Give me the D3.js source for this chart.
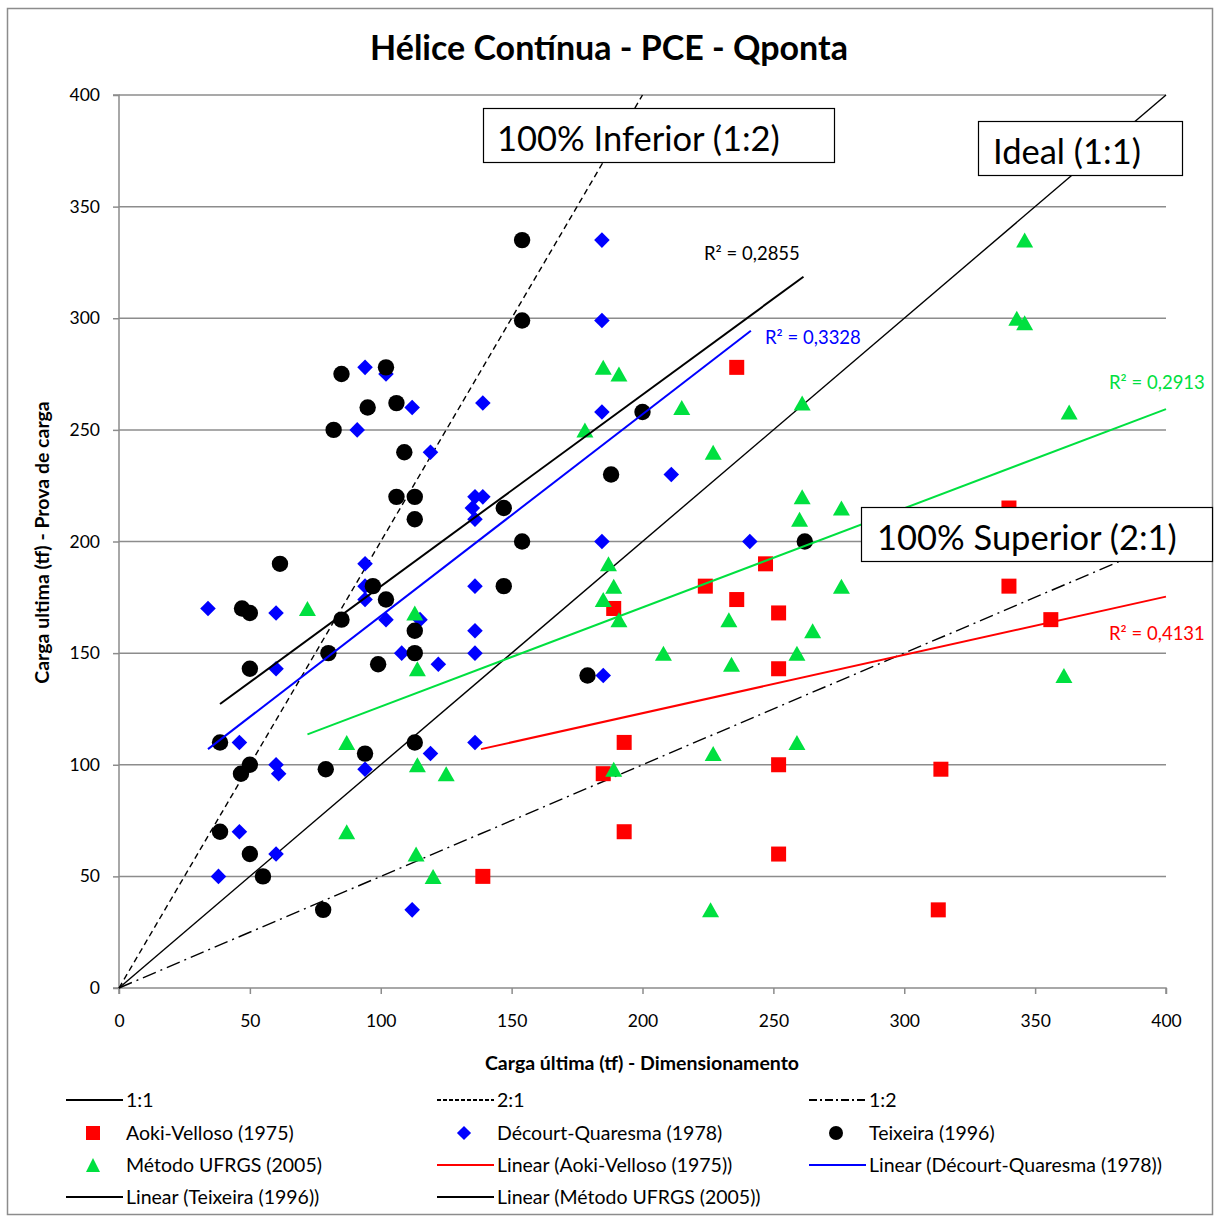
<!DOCTYPE html>
<html>
<head>
<meta charset="utf-8">
<script src="https://cdn.jsdelivr.net/npm/d3@7"></script>
<style>
  body { margin: 0; background: #fff; }
  text { font-family: Lato, "Open Sans", sans-serif; }
</style>
</head>
<body>
<svg id="chart" width="1216" height="1221"></svg>
<script>
// Carga última (tf): dimensionamento (x) vs. prova de carga (y)
const aokiX = [236, 340, 247, 224, 236, 189, 252, 340, 356, 252, 193, 185, 252, 314, 193, 252, 139, 313];
const aokiY = [278, 215, 190, 180, 174, 170, 168, 180, 165, 143, 110, 96, 100, 98, 70, 60, 50, 35];

const decourtX = [184.5, 184.5, 94, 102, 112, 139, 91, 119, 184.5, 211, 136, 139, 135, 136, 94, 94, 94, 34, 60, 102, 115, 136, 136, 108, 136, 122, 60, 185, 184.5, 241, 46, 136, 119, 60, 61, 94, 46, 60, 38, 112];
const decourtY = [335, 299, 278, 275, 260, 262, 250, 240, 258, 230, 220, 220, 215, 210, 190, 180, 174, 170, 168, 165, 165, 180, 160, 150, 150, 145, 143, 140, 200, 200, 110, 110, 105, 100, 96, 98, 70, 60, 50, 35];

const teixeiraX = [154, 154, 85, 102, 95, 106, 82, 109, 106, 113, 113, 200, 188, 147, 154, 147, 61.5, 47, 50, 97, 102, 85, 113, 113, 80, 99, 50, 179, 262, 38.6, 113, 94, 50, 46.6, 79, 38.6, 50, 55, 78];
const teixeiraY = [335, 299, 275, 278, 260, 262, 250, 240, 220, 220, 210, 258, 230, 215, 200, 180, 190, 170, 168, 180, 174, 165, 160, 150, 150, 145, 143, 140, 200, 110, 110, 105, 100, 96, 98, 70, 60, 50, 35];

const ufrgsX = [346, 343, 346, 363, 185, 191, 178, 215, 261, 227, 261, 260, 276, 187, 189, 185, 191, 233, 265, 276, 208, 259, 234, 361, 72, 113, 114, 87, 259, 227, 114, 125, 189, 87, 113.5, 120, 226];
const ufrgsY = [335, 300, 298, 258, 278, 275, 250, 260, 262, 240, 220, 210, 215, 190, 180, 174, 165, 165, 160, 180, 150, 150, 145, 140, 170, 168, 143, 110, 110, 105, 100, 96, 98, 70, 60, 50, 35];

// Linhas de tendência lineares: [x inicial, y inicial], [x final, y final]
const trendAoki = [[138.3, 107.0], [400, 175.3]];
const trendDecourt = [[34, 107.0], [241.4, 294.4]];
const trendTeixeira = [[38.6, 127.2], [261.5, 318.6]];
const trendUfrgs = [[72, 113.6], [400, 259.3]];

const r2Labels = ["R² = 0,2855", "R² = 0,3328", "R² = 0,2913", "R² = 0,4131"];

// Retas de referência: y = k·x
const refSlopes = [1, 2, 0.5];
const refNames = ["1:1", "2:1", "1:2"];

const xTicks = [0, 50, 100, 150, 200, 250, 300, 350, 400];
const yTicks = [0, 50, 100, 150, 200, 250, 300, 350, 400];

const boxLabels = ["100% Inferior (1:2)", "Ideal (1:1)", "100% Superior (2:1)"];

const legendNames = [
  "1:1", "2:1", "1:2",
  "Aoki-Velloso (1975)", "Décourt-Quaresma (1978)", "Teixeira (1996)",
  "Método UFRGS (2005)", "Linear (Aoki-Velloso (1975))", "Linear (Décourt-Quaresma (1978))",
  "Linear (Teixeira (1996))", "Linear (Método UFRGS (2005))"
];

const RED = "#ff0000", BLUE = "#0000ff", BLACK = "#000000", GREEN = "#00e040";
const GRID = "#8c8c8c";

const svg = d3.select("#chart");
const plot = { left: 119, right: 1166, top: 95, bottom: 988 };

const x = d3.scaleLinear().domain([0, 400]).range([plot.left, plot.right]);
const y = d3.scaleLinear().domain([0, 400]).range([plot.bottom, plot.top]);

// Moldura externa
svg.append("rect").attr("x", 7.5).attr("y", 8.5).attr("width", 1205).attr("height", 1206)
  .attr("fill", "#fff").attr("stroke", GRID).attr("stroke-width", 1.5);

// Título
svg.append("text").attr("x", 609).attr("y", 60).attr("text-anchor", "middle")
  .attr("font-size", 34).attr("font-weight", "bold").text("Hélice Contínua - PCE - Qponta");

// Linhas de grade horizontais
svg.append("g").selectAll("line").data(yTicks.filter(d => d > 0)).join("line")
  .attr("x1", plot.left).attr("x2", plot.right)
  .attr("y1", d => y(d)).attr("y2", d => y(d))
  .attr("stroke", GRID).attr("stroke-width", 1.5);

// Eixos
const yAxis = svg.append("g").attr("transform", `translate(${plot.left},0)`)
  .call(d3.axisLeft(y).tickValues(yTicks).tickSize(6).tickPadding(13).tickFormat(d3.format("d")));
const xAxis = svg.append("g").attr("transform", `translate(0,${plot.bottom})`)
  .call(d3.axisBottom(x).tickValues(xTicks).tickSize(6).tickPadding(21).tickFormat(d3.format("d")));
[xAxis, yAxis].forEach(a => {
  a.select(".domain").attr("stroke", GRID).attr("stroke-width", 1.5);
  a.selectAll(".tick line").attr("stroke", GRID).attr("stroke-width", 1.5);
  a.selectAll(".tick text").attr("font-size", 17.5).attr("fill", "#000")
    .attr("font-family", "Lato, 'Open Sans', sans-serif");
});
yAxis.select(".domain").attr("d", `M-6,${plot.top}H0V${plot.bottom}H-6`);
xAxis.select(".domain").attr("d", `M${plot.left},6V0H${plot.right}V6`);

// Títulos dos eixos
svg.append("text").attr("x", 642).attr("y", 1070).attr("text-anchor", "middle")
  .attr("font-size", 19.5).attr("font-weight", "bold").text("Carga última (tf) - Dimensionamento");
svg.append("text").attr("transform", `translate(49,${(plot.top + plot.bottom) / 2 + 1}) rotate(-90)`)
  .attr("text-anchor", "middle").attr("font-size", 19.5).attr("font-weight", "bold")
  .text("Carga ultima (tf) - Prova de carga");

// Retas de referência
const refDash = ["none", "6,4", "14,5,2,5"];
const line = d3.line().x(d => x(d[0])).y(d => y(d[1]));
refSlopes.forEach((k, i) => {
  const xEnd = Math.min(400, 400 / k);
  svg.append("path").attr("d", line([[0, 0], [xEnd, k * xEnd]]))
    .attr("fill", "none").attr("stroke", BLACK).attr("stroke-width", 1.4)
    .attr("stroke-dasharray", refDash[i]);
});

// Marcadores
const sq = 15, dia = 11, circR = 8.2, triW = 17, triH = 15;
const triPath = `M0,${-triH / 2}L${triW / 2},${triH / 2}L${-triW / 2},${triH / 2}Z`;

svg.append("g").selectAll("rect").data(d3.zip(aokiX, aokiY)).join("rect")
  .attr("x", d => x(d[0]) - sq / 2).attr("y", d => y(d[1]) - sq / 2)
  .attr("width", sq).attr("height", sq).attr("fill", RED);

svg.append("g").selectAll("rect").data(d3.zip(decourtX, decourtY)).join("rect")
  .attr("x", -dia / 2).attr("y", -dia / 2).attr("width", dia).attr("height", dia)
  .attr("transform", d => `translate(${x(d[0])},${y(d[1])}) rotate(45)`).attr("fill", BLUE);

svg.append("g").selectAll("circle").data(d3.zip(teixeiraX, teixeiraY)).join("circle")
  .attr("cx", d => x(d[0])).attr("cy", d => y(d[1])).attr("r", circR).attr("fill", BLACK);

svg.append("g").selectAll("path").data(d3.zip(ufrgsX, ufrgsY)).join("path")
  .attr("d", triPath).attr("transform", d => `translate(${x(d[0])},${y(d[1])})`).attr("fill", GREEN);

// Linhas de tendência
[[trendAoki, RED], [trendDecourt, BLUE], [trendTeixeira, BLACK], [trendUfrgs, GREEN]].forEach(([pts, c]) => {
  svg.append("path").attr("d", line(pts)).attr("fill", "none").attr("stroke", c).attr("stroke-width", 2);
});

// Coeficientes R²
const r2Pos = [[704, 260, BLACK], [765, 344, BLUE], [1109, 389, GREEN], [1109, 640, RED]];
r2Pos.forEach((p, i) => {
  svg.append("text").attr("x", p[0]).attr("y", p[1]).attr("font-size", 18.5).attr("fill", p[2]).text(r2Labels[i]);
});

// Caixas de anotação
const boxes = [
  { x: 483, y: 108, w: 351, h: 54, tx: 497 },
  { x: 978, y: 121, w: 204, h: 54, tx: 993 },
  { x: 861, y: 507, w: 351, h: 54, tx: 877 }
];
boxes.forEach((b, i) => {
  svg.append("rect").attr("x", b.x + 0.5).attr("y", b.y + 0.5).attr("width", b.w).attr("height", b.h)
    .attr("fill", "#fff").attr("stroke", BLACK).attr("stroke-width", 1.2);
  svg.append("text").attr("x", b.tx).attr("y", b.y + b.h / 2 + 16).attr("font-size", 34.5).text(boxLabels[i]);
});

// Legenda
const legCols = [66, 437, 809];
const legRows = [1100, 1133, 1165, 1197];
const legItems = [
  { kind: "line", color: BLACK, dash: "none" },
  { kind: "line", color: BLACK, dash: "4,2" },
  { kind: "line", color: BLACK, dash: "8,3,2,3" },
  { kind: "square", color: RED },
  { kind: "diamond", color: BLUE },
  { kind: "circle", color: BLACK },
  { kind: "triangle", color: GREEN },
  { kind: "line", color: RED, dash: "none" },
  { kind: "line", color: BLUE, dash: "none" },
  { kind: "line", color: BLACK, dash: "none" },
  { kind: "line", color: BLACK, dash: "none" }
];
const leg = svg.append("g");
legItems.forEach((it, i) => {
  const cx = legCols[i % 3], cy = legRows[Math.floor(i / 3)];
  const g = leg.append("g").attr("transform", `translate(${cx},${cy})`);
  if (it.kind === "line") {
    g.append("line").attr("x1", 0).attr("x2", 57).attr("y1", 0).attr("y2", 0)
      .attr("stroke", it.color).attr("stroke-width", 2).attr("stroke-dasharray", it.dash);
  } else if (it.kind === "square") {
    g.append("rect").attr("x", 20).attr("y", -7).attr("width", 14).attr("height", 14).attr("fill", it.color);
  } else if (it.kind === "diamond") {
    g.append("rect").attr("x", -5).attr("y", -5).attr("width", 10).attr("height", 10)
      .attr("transform", "translate(27,0) rotate(45)").attr("fill", it.color);
  } else if (it.kind === "circle") {
    g.append("circle").attr("cx", 27).attr("cy", 0).attr("r", 7).attr("fill", it.color);
  } else if (it.kind === "triangle") {
    g.append("path").attr("d", "M27,-7L34,7L20,7Z").attr("fill", it.color);
  }
  g.append("text").attr("x", 60).attr("y", 6.5).attr("font-size", 19.5).text(legendNames[i]);
});
</script>
</body>
</html>
